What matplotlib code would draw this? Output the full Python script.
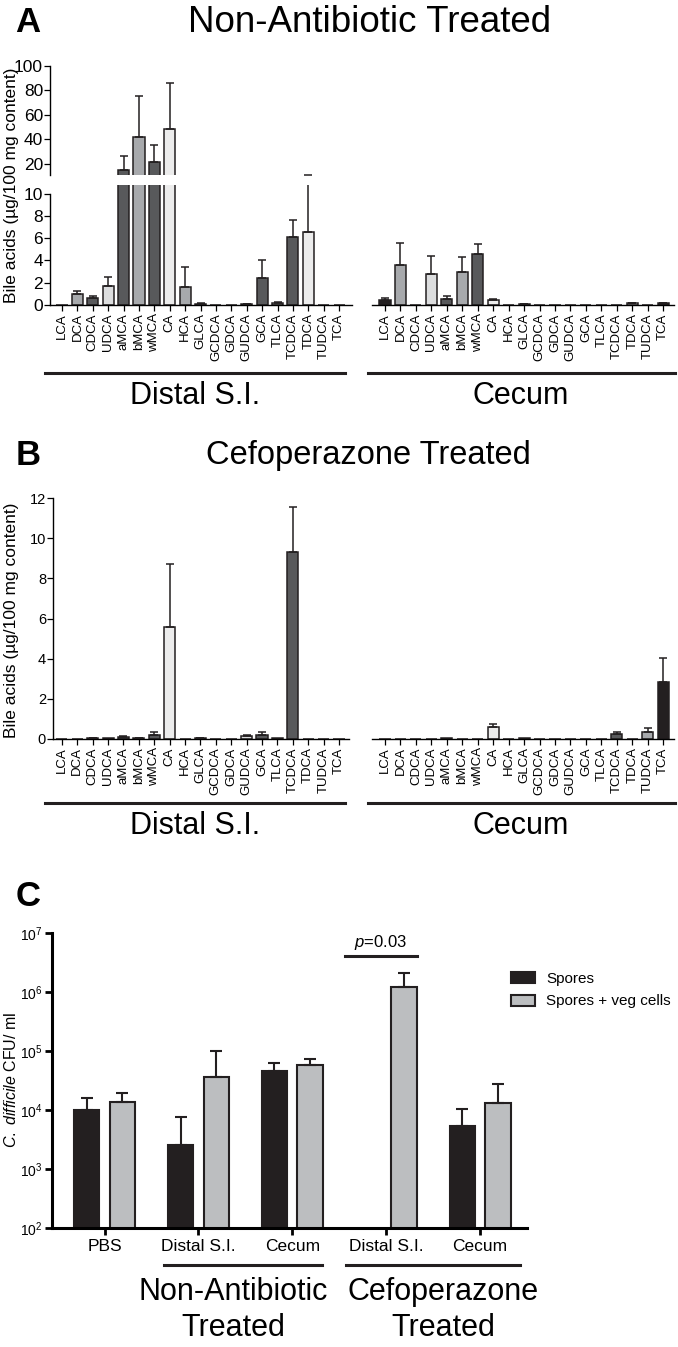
import numpy as np
import matplotlib
matplotlib.use("Agg")
import matplotlib.pyplot as plt
from matplotlib.lines import Line2D
from matplotlib.patches import Patch

plt.rcParams['font.family'] = ['Liberation Sans', 'DejaVu Sans']
plt.rcParams['mathtext.fontset'] = 'custom'
plt.rcParams['mathtext.rm'] = 'Liberation Sans'
plt.rcParams['mathtext.it'] = 'Liberation Sans:italic'

# ---- data ----
acids = ['LCA', 'DCA', 'CDCA', 'UDCA', 'aMCA', 'bMCA', 'wMCA', 'CA', 'HCA', 'GLCA',
         'GCDCA', 'GDCA', 'GUDCA', 'GCA', 'TLCA', 'TCDCA', 'TDCA', 'TUDCA', 'TCA']

# panel A: non-antibiotic treated
a_distal = [0.02, 1.0, 0.6, 1.75, 15.1, 41.5, 21.0, 48.5, 1.65, 0.12,
            0.03, 0.02, 0.05, 2.4, 0.2, 6.1, 6.6, 0.0, 0.0]
a_distal_err = [0, 0.25, 0.25, 0.8, 11.5, 34, 14.5, 37.5, 1.75, 0.06,
                0, 0, 0.02, 1.6, 0.1, 1.55, 4.4, 0, 0]
a_cecum = [0.45, 3.6, 0.0, 2.8, 0.5, 3.0, 4.6, 0.45, 0.02, 0.05,
           0, 0, 0, 0, 0.02, 0.02, 0.15, 0.02, 0.15]
a_cecum_err = [0.15, 1.95, 0, 1.6, 0.3, 1.3, 0.85, 0.1, 0, 0.03,
               0, 0, 0, 0, 0, 0, 0.05, 0, 0.05]

# panel B: cefoperazone treated
b_distal = [0, 0, 0.05, 0.03, 0.1, 0.05, 0.2, 5.6, 0.02, 0.05,
            0.02, 0, 0.15, 0.2, 0.03, 9.3, 0.02, 0, 0]
b_distal_err = [0, 0, 0.02, 0, 0.03, 0.02, 0.15, 3.1, 0, 0.02,
                0, 0, 0.04, 0.15, 0, 2.25, 0, 0, 0]
b_cecum = [0, 0, 0, 0, 0.03, 0, 0, 0.58, 0, 0.03,
           0, 0, 0.02, 0, 0, 0.25, 0, 0.33, 2.85]
b_cecum_err = [0, 0, 0, 0, 0, 0, 0, 0.18, 0, 0,
               0, 0, 0, 0, 0, 0.11, 0, 0.2, 1.16]

# panel C: C. difficile CFU
sites = ['PBS', 'Distal S.I.', 'Cecum', 'Distal S.I.', 'Cecum']
spores = [1.0e4, 2.6e3, 4.6e4, np.nan, 5.4e3]
spores_err = [6.0e3, 4.9e3, 1.6e4, np.nan, 5.1e3]
veg = [1.38e4, 3.6e4, 5.8e4, 1.23e6, 1.3e4]
veg_err = [5.7e3, 6.4e4, 1.4e4, 8.7e5, 1.45e4]

# ---- styles ----
BLACK, DARK, MID, LIGHT, PALE = '#231f20', '#58595b', '#a7a9ac', '#dcddde', '#ececec'
acid_colors = {'LCA': BLACK, 'DCA': MID, 'CDCA': DARK, 'UDCA': LIGHT, 'aMCA': DARK,
               'bMCA': MID, 'wMCA': DARK, 'CA': PALE, 'HCA': MID, 'GLCA': DARK,
               'GCDCA': MID, 'GDCA': DARK, 'GUDCA': LIGHT, 'GCA': DARK, 'TLCA': MID,
               'TCDCA': DARK, 'TDCA': PALE, 'TUDCA': MID, 'TCA': BLACK}

W, H = 678, 1347
fig = plt.figure(figsize=(W / 100, H / 100), dpi=100)


def rect(x0, x1, ytop, ybot):
    return [x0 / W, 1 - ybot / H, (x1 - x0) / W, (ybot - ytop) / H]


def ftext(x, y, s, **kw):
    fig.text(x / W, 1 - y / H, s, ha=kw.pop('ha', 'center'), va=kw.pop('va', 'center'), **kw)


def fline(x0, x1, y, lw=2.2):
    fig.add_artist(Line2D([x0 / W, x1 / W], [1 - y / H, 1 - y / H], color=BLACK,
                          lw=lw, transform=fig.transFigure))


def draw_bars(ax, vals, errs):
    x = np.arange(len(acids))
    v = np.array(vals, float)
    e = np.array(errs, float)
    ax.bar(x, v, width=0.72, color=[acid_colors[a] for a in acids],
           edgecolor=BLACK, linewidth=1.1, zorder=2)
    m = e > 0
    ax.errorbar(x[m], v[m], yerr=[np.zeros(m.sum()), e[m]], fmt='none', ecolor=BLACK,
                elinewidth=1.1, capsize=3, capthick=1.1, zorder=3)


def style_acid_axis(ax, show_y, ytick_size):
    for s in ['top', 'right']:
        ax.spines[s].set_visible(False)
    ax.spines['bottom'].set_linewidth(1.0)
    ax.spines['left'].set_linewidth(1.0)
    ax.set_xticks(np.arange(len(acids)))
    ax.set_xticklabels(acids, rotation=90, fontsize=9.5)
    ax.tick_params(axis='x', length=4, width=0.9, pad=2)
    ax.tick_params(axis='y', length=4, width=0.9, pad=1, labelsize=ytick_size)
    if not show_y:
        ax.spines['left'].set_visible(False)
        ax.set_yticks([])


# ---- panel A ----
ax_at = fig.add_axes(rect(50, 352, 66, 175))
draw_bars(ax_at, a_distal, a_distal_err)
ax_at.set_xlim(-0.78, 18.84)
ax_at.set_ylim(10.7, 100)
for s in ['top', 'right', 'bottom']:
    ax_at.spines[s].set_visible(False)
ax_at.spines['left'].set_linewidth(1.0)
ax_at.set_xticks([])
ax_at.set_yticks([20, 40, 60, 80, 100])
ax_at.tick_params(axis='y', length=4, width=0.9, pad=1, labelsize=12.5)

ax_ad = fig.add_axes(rect(50, 352, 185.4, 305))
draw_bars(ax_ad, a_distal, a_distal_err)
ax_ad.set_xlim(-0.78, 18.84)
ax_ad.set_ylim(0, 10.75)
ax_ad.set_yticks([0, 2, 4, 6, 8, 10])
style_acid_axis(ax_ad, True, 12.5)
ax_ad.spines['left'].set_bounds(0, 10)

ax_ac = fig.add_axes(rect(372, 674, 185.4, 305))
draw_bars(ax_ac, a_cecum, a_cecum_err)
ax_ac.set_xlim(-0.84, 18.7)
ax_ac.set_ylim(0, 10.75)
style_acid_axis(ax_ac, False, 12.5)

ftext(28, 22, 'A', fontsize=25, fontweight='bold')
ftext(370, 22, 'Non-Antibiotic Treated', fontsize=26.5)
ftext(12, 185, 'Bile acids (\u00b5g/100 mg content)', rotation=90, fontsize=12.5)
fline(45, 345, 373)
fline(368, 675, 373)
ftext(195, 396, 'Distal S.I.', fontsize=22)
ftext(521, 396, 'Cecum', fontsize=22)

# ---- panel B ----
ax_bd = fig.add_axes(rect(53, 349, 498, 739))
draw_bars(ax_bd, b_distal, b_distal_err)
ax_bd.set_xlim(-0.58, 18.65)
ax_bd.set_ylim(0, 12)
ax_bd.set_yticks([0, 2, 4, 6, 8, 10, 12])
style_acid_axis(ax_bd, True, 10.5)

ax_bc = fig.add_axes(rect(372, 674, 498, 739))
draw_bars(ax_bc, b_cecum, b_cecum_err)
ax_bc.set_xlim(-0.84, 18.7)
ax_bc.set_ylim(0, 12)
style_acid_axis(ax_bc, False, 10.5)

ftext(28, 455, 'B', fontsize=25, fontweight='bold')
ftext(368, 455, 'Cefoperazone Treated', fontsize=23.5)
ftext(12, 620, 'Bile acids (\u00b5g/100 mg content)', rotation=90, fontsize=12.5)
fline(45, 345, 803)
fline(368, 675, 803)
ftext(195, 826, 'Distal S.I.', fontsize=22)
ftext(521, 826, 'Cecum', fontsize=22)

# ---- panel C ----
ax_c = fig.add_axes(rect(52, 527, 933, 1228))
ax_c.set_yscale('log')
xc = np.arange(len(sites))
off, bw = 0.19, 0.27
ax_c.bar(xc - off, spores, width=bw, color=BLACK, edgecolor=BLACK, linewidth=1.5, zorder=2)
ax_c.bar(xc + off, veg, width=bw, color='#bcbec0', edgecolor=BLACK, linewidth=1.5, zorder=2)
sp = np.array(spores)
ax_c.errorbar(xc - off, sp, yerr=[np.zeros_like(sp), np.array(spores_err)], fmt='none',
              ecolor=BLACK, elinewidth=1.5, capsize=4, capthick=1.5, zorder=3)
vg = np.array(veg)
ax_c.errorbar(xc + off, vg, yerr=[np.zeros_like(vg), np.array(veg_err)], fmt='none',
              ecolor=BLACK, elinewidth=1.5, capsize=4, capthick=1.5, zorder=3)
ax_c.set_ylim(1e2, 1e7)
ax_c.set_xlim(-0.56, 4.5)
ax_c.set_xticks(xc)
ax_c.set_xticklabels(sites, fontsize=12.5)
ax_c.yaxis.set_minor_locator(matplotlib.ticker.NullLocator())
for s in ['top', 'right']:
    ax_c.spines[s].set_visible(False)
for s in ['bottom', 'left']:
    ax_c.spines[s].set_linewidth(2.2)
ax_c.tick_params(axis='both', length=5, width=2, labelsize=10, pad=2)
ax_c.tick_params(axis='x', labelsize=12.5, pad=3)

ftext(28, 897, 'C', fontsize=25, fontweight='bold')
ftext(11, 1080, r'$\mathit{C.\ difficile}$ CFU/ ml', rotation=90, fontsize=11.5)
fline(345, 417, 956)
ftext(381, 942, r'$\mathit{p}$=0.03', fontsize=12)
fline(164, 322, 1265)
fline(346, 520, 1265)
ftext(233, 1292, 'Non-Antibiotic', fontsize=22)
ftext(233, 1328, 'Treated', fontsize=22)
ftext(443, 1292, 'Cefoperazone', fontsize=22)
ftext(443, 1328, 'Treated', fontsize=22)

handles = [Patch(facecolor=BLACK, edgecolor=BLACK, lw=1.5),
           Patch(facecolor='#bcbec0', edgecolor=BLACK, lw=1.5)]
ax_c.legend(handles, ['Spores', 'Spores + veg cells'], loc='upper left',
            bbox_to_anchor=(511 / W, 1 - 972 / H), bbox_transform=fig.transFigure,
            frameon=False, fontsize=11, handlelength=1.55, handleheight=0.72,
            handletextpad=0.75, labelspacing=0.55, borderpad=0, borderaxespad=0)

fig.savefig('out.png', dpi=100)
